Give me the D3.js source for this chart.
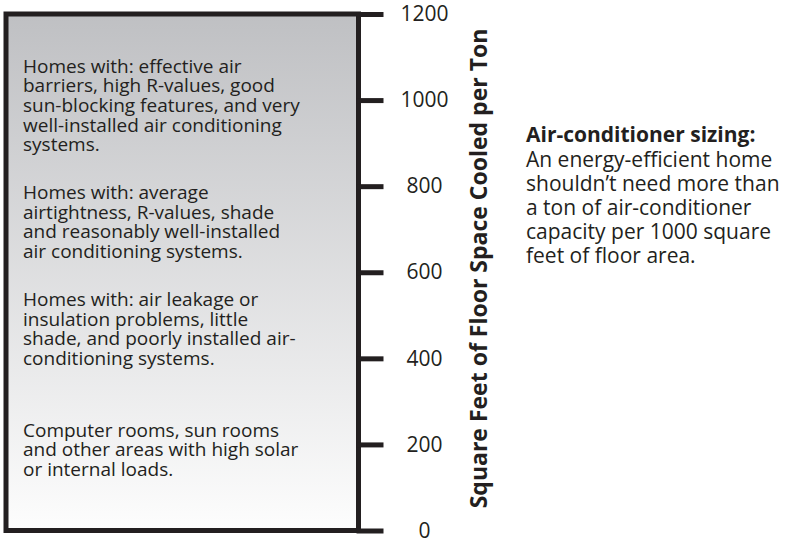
<!DOCTYPE html>
<html><head><meta charset="utf-8">
<script src="https://cdn.jsdelivr.net/npm/d3@7"></script>
<style>body{margin:0;background:#fff}svg{display:block}</style>
</head><body><svg id="chart" width="786" height="539"></svg>
<script>
// ---- data ----
const yDomain = [0, 1200];
const tickValues = [0, 200, 400, 600, 800, 1000, 1200];
const axisTitle = "Square Feet of Floor Space Cooled per Ton";
const blockEfficient = ["Homes with: effective air", "barriers, high R-values, good", "sun-blocking features, and very", "well-installed air conditioning", "systems."];
const blockAverage = ["Homes with: average", "airtightness, R-values, shade", "and reasonably well-installed", "air conditioning systems."];
const blockPoor = ["Homes with: air leakage or", "insulation problems, little", "shade, and poorly installed air-", "conditioning systems."];
const blockHighLoad = ["Computer rooms, sun rooms", "and other areas with high solar", "or internal loads."];
const noteTitle = "Air-conditioner sizing:";
const noteLines = ["An energy-efficient home", "shouldn\u2019t need more than", "a ton of air-conditioner", "capacity per 1000 square", "feet of floor area."];

// ---- drawing ----
const ink = "#231f20";
const font = "'Open Sans', sans-serif";
const svg = d3.select("#chart");
const boxLeft = 6, boxRight = 358.5;
const y = d3.scaleLinear().domain(yDomain).range([530.5, 14]);

const defs = svg.append("defs");
const grad = defs.append("linearGradient").attr("id", "bg").attr("x1", 0).attr("y1", 0).attr("x2", 0).attr("y2", 1);
grad.append("stop").attr("offset", "0%").attr("stop-color", "#bfc0c3");
grad.append("stop").attr("offset", "100%").attr("stop-color", "#fdfdfd");

svg.append("rect")
  .attr("x", boxLeft).attr("y", y(yDomain[1]))
  .attr("width", boxRight - boxLeft).attr("height", y(yDomain[0]) - y(yDomain[1]))
  .attr("fill", "url(#bg)").attr("stroke", ink).attr("stroke-width", 5);

const axis = d3.axisRight(y).tickValues(tickValues).tickSize(25).tickPadding(0).tickFormat(d3.format("d"));
const ag = svg.append("g").attr("transform", `translate(${boxRight},0)`).call(axis);
ag.select(".domain").remove();
ag.selectAll(".tick line").attr("stroke", ink).attr("stroke-width", 5).attr("x1", -2);
ag.selectAll(".tick text")
  .attr("x", 66).attr("text-anchor", "middle")
  .attr("fill", ink)
  .style("font-family", font).style("font-size", "21px");

svg.append("text")
  .attr("transform", "translate(487,268.5) rotate(-90)")
  .attr("text-anchor", "middle")
  .attr("fill", ink)
  .style("font-family", font).style("font-size", "23px").style("font-weight", "bold")
  .text(axisTitle);

const blocks = [
  {lines: blockEfficient, y0: 72.5},
  {lines: blockAverage, y0: 199},
  {lines: blockPoor, y0: 306},
  {lines: blockHighLoad, y0: 436.5}
];
const lh = 19.7;
blocks.forEach(b => {
  svg.append("g").selectAll("text").data(b.lines).join("text")
    .attr("x", 23).attr("y", (d, i) => b.y0 + i * lh)
    .attr("fill", ink)
    .style("font-family", font).style("font-size", "19px")
    .text(d => d);
});

const noteX = 526;
svg.append("text").attr("x", noteX).attr("y", 142)
  .attr("fill", ink)
  .style("font-family", font).style("font-size", "21px").style("font-weight", "bold")
  .text(noteTitle);
svg.append("g").selectAll("text").data(noteLines).join("text")
  .attr("x", noteX).attr("y", (d, i) => 167 + i * 24)
  .attr("fill", ink)
  .style("font-family", font).style("font-size", "21px")
  .text(d => d);
</script>
</body></html>
